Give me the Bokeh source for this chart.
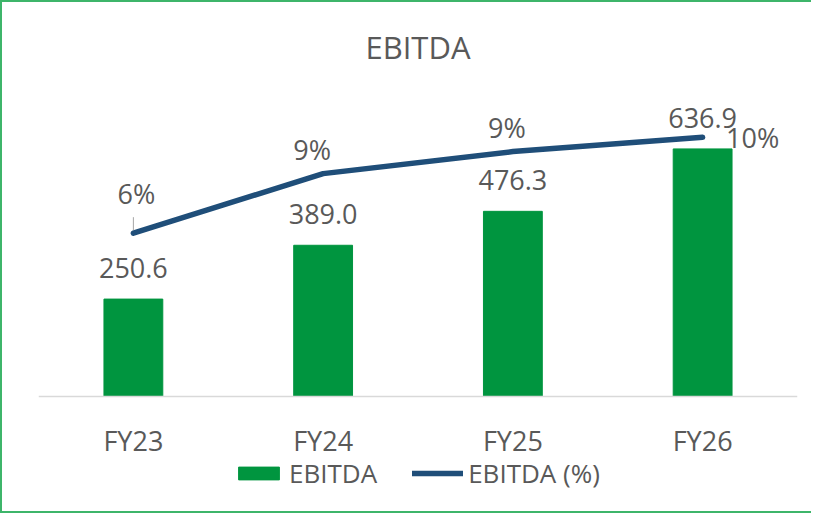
from bokeh.plotting import figure
from bokeh.models import ColumnDataSource, FactorRange, Range1d, Legend, LegendItem, Span
from bokeh.core.properties import value
from bokeh.embed import file_html
from bokeh.resources import INLINE

# ---- data ----
categories = ["FY23", "FY24", "FY25", "FY26"]
ebitda = [250.6, 389.0, 476.3, 636.9]
ebitda_pct = [6.3, 8.6, 9.45, 10.0]

ebitda_labels = [f"{v:.1f}" for v in ebitda]
pct_labels = [f"{v:.0f}%" for v in ebitda_pct]

# ---- style (label placement offsets in pixels) ----
pct_x_off = [3, -11, -6, 50]
pct_y_off = [-40, -24, -24, 0]

FONT = "Open Sans"
TXT = "#595959"
GREEN = "#00953F"
BLUE = "#1F4E79"
BORDER = "2px solid #3DB56A"

src = ColumnDataSource(dict(
    cat=categories, ebitda=ebitda, pct=ebitda_pct,
    elab=ebitda_labels, plab=pct_labels,
    pxo=pct_x_off, pyo=pct_y_off,
))

p = figure(
    width=811, height=513,
    x_range=FactorRange(*categories, range_padding=0),
    y_range=Range1d(-285.5, 800),
    output_backend="svg", toolbar_location=None,
    min_border_left=36, min_border_right=16,
    min_border_top=83, min_border_bottom=8,
    x_axis_location=None, y_axis_location=None,
)
p.styles = {
    "border-left": BORDER,
    "border-top": BORDER,
    "border-bottom": BORDER,
}
p.extra_y_ranges = {"pct": Range1d(-4.283, 12)}

p.title.text = "EBITDA"
p.title.align = "center"
p.title.text_font = FONT
p.title.text_font_size = "31px"
p.title.text_font_style = "normal"
p.title.text_color = TXT
p.title.standoff = 35

# category baseline
p.add_layout(Span(location=0, dimension="width", line_color="#D9D9D9", line_width=1.5))

bars = p.vbar(x="cat", top="ebitda", width=0.31, source=src,
              fill_color=GREEN, line_color=GREEN)
line = p.line(x="cat", y="pct", source=src, y_range_name="pct",
              line_width=5.5, line_color=BLUE, line_cap="round", line_join="round")

# leader line for first percentage label
lead_src = ColumnDataSource(dict(cat=categories[:1], lead0=[ebitda_pct[0] + 0.12],
                                 lead1=[ebitda_pct[0] + 0.62]))
p.segment(x0="cat", y0="lead0", x1="cat", y1="lead1", source=lead_src,
          y_range_name="pct", line_color="#A6A6A6", line_width=1)

# value labels
p.text(x="cat", y="ebitda", text="elab", source=src,
       text_font=value(FONT), text_font_size="27px", text_color=TXT,
       text_align="center", text_baseline="alphabetic", y_offset=-31)
p.text(x="cat", y="pct", text="plab", source=src, y_range_name="pct",
       text_font=value(FONT), text_font_size="27px", text_color=TXT,
       text_align="center", text_baseline="alphabetic",
       x_offset="pxo", y_offset="pyo")

# category labels under the baseline
cat_src = ColumnDataSource(dict(cat=categories, zero=[0] * len(categories)))
p.text(x="cat", y="zero", text="cat", source=cat_src,
       text_font=value(FONT), text_font_size="27px", text_color=TXT,
       text_align="center", text_baseline="alphabetic", y_offset=44)

p.xgrid.visible = False
p.ygrid.visible = False
p.outline_line_color = None
p.background_fill_color = "white"
p.border_fill_color = "white"

legend = Legend(items=[LegendItem(label="EBITDA", renderers=[bars]),
                       LegendItem(label="EBITDA (%)", renderers=[line])],
                location=(195, 16), orientation="horizontal",
                glyph_width=51, glyph_height=16, label_standoff=5, spacing=35,
                padding=0, margin=0, border_line_color=None,
                background_fill_alpha=0,
                label_text_font=FONT, label_text_font_size="26px",
                label_text_color=TXT)
p.add_layout(legend, "center")

open("out.html", "w").write(file_html(p, INLINE))
